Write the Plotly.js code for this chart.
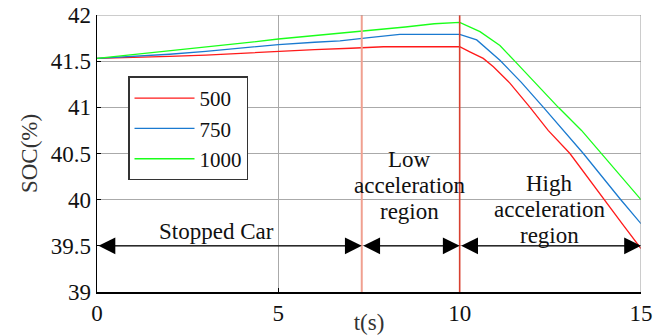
<!DOCTYPE html>
<html><head><meta charset="utf-8">
<script src="https://cdn.plot.ly/plotly-3.0.1.min.js"></script>
<style>body{margin:0;background:#fff}#c{width:668px;height:335px}</style>
</head><body><div id="c"></div>
<script>
// Series (time in s, SOC in %)
const t500  = [0, 1, 2, 3, 4, 5, 6, 7, 7.9, 9, 10, 10.28, 10.65, 10.93, 11.39, 11.94, 12.44, 13.04, 13.96, 14.5, 15];
const soc500 = [41.53, 41.538, 41.552, 41.566, 41.588, 41.61, 41.625, 41.64, 41.656, 41.656, 41.656, 41.60, 41.53, 41.44, 41.26, 41.00, 40.75, 40.50, 40.01, 39.73, 39.47];
const t750  = [0, 1, 2, 3, 4, 5, 6, 6.7, 7.5, 8.35, 10, 10.47, 11.11, 11.7, 12.31, 12.86, 13.41, 14.42, 15];
const soc750 = [41.53, 41.55, 41.575, 41.605, 41.645, 41.68, 41.705, 41.72, 41.755, 41.79, 41.79, 41.73, 41.51, 41.27, 41.00, 40.75, 40.50, 40.01, 39.74];
const t1000 = [0, 1, 2, 3, 4, 5, 6, 6.7, 7.58, 8.5, 9.3, 10, 10.56, 11.11, 11.52, 12.1, 12.72, 13.36, 13.91, 15];
const soc1000 = [41.53, 41.57, 41.61, 41.65, 41.695, 41.74, 41.775, 41.80, 41.83, 41.87, 41.905, 41.92, 41.82, 41.67, 41.50, 41.26, 41.00, 40.75, 40.50, 40.00];
const seriesNames = ['500', '750', '1000'];
const seriesColors = ['#ff1a1a', '#1a7ad0', '#1aff1a'];

// Regions
const regionBounds = [0, 7.3, 10, 15];
const arrowLevel = 39.5;
const regionLines = [['Stopped Car'], ['Low', 'acceleration', 'region'], ['High', 'acceleration', 'region']];
const labelX = [3.3, 8.63, 12.49];
const labelTopY = [39.65, 40.43, 40.17];   // y of first line of each label
const lineStep = 0.28;                      // spacing between label lines (SOC units)

// Axes
const xTicks = [0, 5, 10, 15];
const yTicks = [39, 39.5, 40, 40.5, 41, 41.5, 42];
const yTickText = ['39', '39.5', '40', '40.5', '41', '41.5', '42'];

const font = 'Liberation Serif';
const traces = [
  {x: t500, y: soc500}, {x: t750, y: soc750}, {x: t1000, y: soc1000}
].map((s, i) => ({x: s.x, y: s.y, type: 'scatter', mode: 'lines', name: seriesNames[i],
  line: {color: seriesColors[i], width: 1.3}}));

const annotations = [];
for (let i = 0; i < 3; i++) {
  annotations.push({x: regionBounds[i+1], y: arrowLevel, ax: regionBounds[i], ay: arrowLevel,
    xref: 'x', yref: 'y', axref: 'x', ayref: 'y', text: '', showarrow: true,
    arrowhead: 2, startarrowhead: 2, arrowside: 'end+start', arrowsize: 2.4, startarrowsize: 2.4,
    arrowwidth: 1.4, arrowcolor: '#000'});
  regionLines[i].forEach((ln, k) => {
    annotations.push({x: labelX[i], y: labelTopY[i] - k * lineStep, xref: 'x', yref: 'y', text: ln,
      showarrow: false, font: {family: font, size: 23, color: '#111'}, align: 'center'});
  });
}

const shapes = [
  {type: 'line', xref: 'x', yref: 'y', x0: regionBounds[1], x1: regionBounds[1], y0: 39, y1: 42,
   line: {color: '#f0a090', width: 2}},
  {type: 'line', xref: 'x', yref: 'y', x0: regionBounds[2], x1: regionBounds[2], y0: 39, y1: 42.03,
   line: {color: '#d84030', width: 1.6}}
];

const layout = {
  width: 668, height: 335,
  margin: {l: 97, r: 27, t: 15, b: 43},
  paper_bgcolor: '#fff', plot_bgcolor: '#fff',
  font: {family: font, size: 20, color: '#111'},
  xaxis: {range: [0, 15], tickvals: xTicks, ticks: 'inside', ticklen: 4, tickcolor: '#000',
    showgrid: true, gridcolor: '#aaaaaa', gridwidth: 1, zeroline: false,
    showline: true, linecolor: '#000', linewidth: 1.5, mirror: false,
    tickfont: {family: font, size: 23}, title: {text: 't(s)', font: {family: font, size: 23, color: '#333'}, standoff: 0}},
  yaxis: {range: [39, 42], tickvals: yTicks, ticktext: yTickText, ticks: 'inside', ticklen: 4, tickcolor: '#000',
    showgrid: true, gridcolor: '#aaaaaa', gridwidth: 1, zeroline: false,
    showline: true, linecolor: '#000', linewidth: 1.5, mirror: false,
    tickfont: {family: font, size: 23}, title: {text: 'SOC(%)', font: {family: font, size: 23, color: '#333'}, standoff: 6}},
  showlegend: true,
  legend: {x: 0.057, y: 0.778, xanchor: 'left', yanchor: 'top', bgcolor: '#fff',
    bordercolor: '#333', borderwidth: 1.5, font: {family: font, size: 21, color: '#111'},
    tracegroupgap: 0, itemwidth: 60},
  shapes: shapes.concat([
    {type: 'line', xref: 'x', yref: 'y', x0: 0, x1: 15, y0: 42, y1: 42, line: {color: '#999', width: 1}},
    {type: 'line', xref: 'x', yref: 'y', x0: 15, x1: 15, y0: 39, y1: 42, line: {color: '#999', width: 1}}
  ]),
  annotations: annotations
};
Plotly.newPlot('c', traces, layout, {displayModeBar: false, staticPlot: true});
</script></body></html>
